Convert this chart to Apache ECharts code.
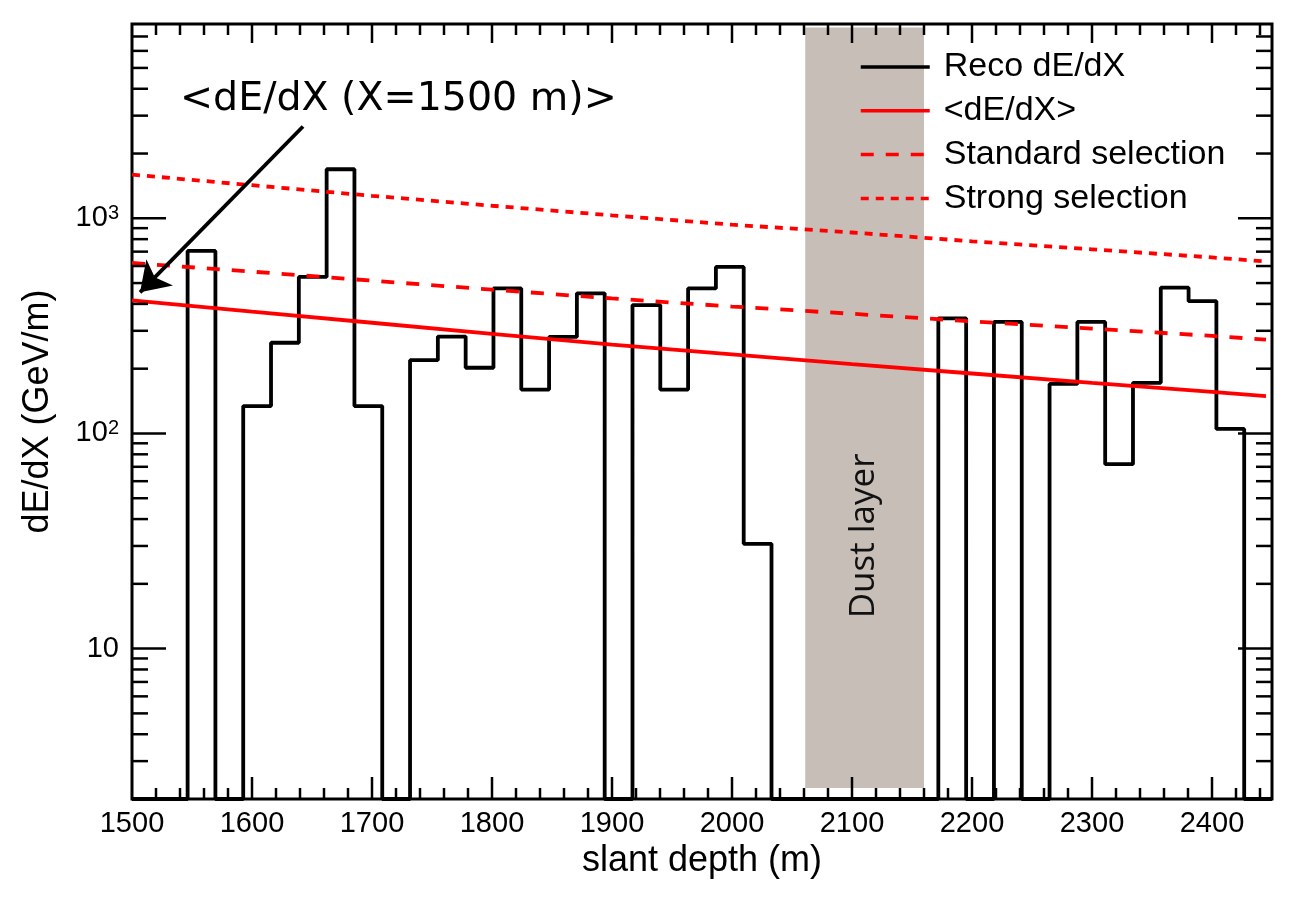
<!DOCTYPE html>
<html>
<head>
<meta charset="utf-8">
<title>dE/dX vs slant depth</title>
<script src="https://cdn.jsdelivr.net/npm/echarts@6/dist/echarts.min.js"></script>
<style>
    html, body { margin: 0; padding: 0; background: #fff; }
    #chart { width: 1305px; height: 915px; }
</style>
</head>
<body>
<div id="chart"></div>
<script>
(function () {

    // histogram binning (slant depth, m)
    var HIST_MIN = 1500;
    var HIST_MAX = 2450;
    var N_BINS = 41;

    // reconstructed dE/dX per bin (GeV/m), 0 = empty bin
    var recoValues = [
        0, 0, 705, 0, 134, 264, 534, 1690, 134, 0,
        219, 282, 202, 472, 160, 281, 448, 0, 395, 160,
        472, 594, 30.7, 0, 0, 0, 0, 0, 0, 343,
        0, 330, 0, 170, 330, 72, 172, 476, 412, 105,
        0
    ];

    // expected curves, read at these depths
    var lineDepths = [1500, 1600, 1700, 1800, 1900, 2000, 2100, 2200, 2300, 2400, 2445];
    var meanValues = [415, 368, 327, 290, 259, 233, 210, 190, 172, 156, 149];
    var standardValues = [620, 565, 513, 466, 424, 389, 360, 332, 307, 284, 273];
    var strongValues = [1596, 1425, 1272, 1144, 1032, 934, 859, 782, 717, 658, 630];

    var seriesNames = ['Reco dE/dX', '<dE/dX>', 'Standard selection', 'Strong selection'];

    // dust layer band (depth range, value range)
    var dustDepth = [2061, 2160];
    var dustValue = [2.25, 7700];

    // axes
    var X_MIN = 1500, X_MAX = 2450;
    var Y_MIN = 2, Y_MAX = 8000;
    var yMajorTicks = [10, 100, 1000];
    var yMinorTicks = [2, 3, 4, 5, 6, 7, 8, 9,
        20, 30, 40, 50, 60, 70, 80, 90,
        200, 300, 400, 500, 600, 700, 800, 900,
        2000, 3000, 4000, 5000, 6000, 7000];

    var FONT = '"Liberation Sans", Arial, Helvetica, sans-serif';

    var chart = echarts.init(document.getElementById('chart'));

    //
    var binWidth = (HIST_MAX - HIST_MIN) / N_BINS;
    var histData = [];
    recoValues.forEach(function (v, i) {
        var lo = HIST_MIN + i * binWidth;
        var hi = lo + binWidth;
        var y = v > 0 ? v : Y_MIN;
        histData.push([lo, y], [hi, y]);
    });

    function pairs(xs, ys) {
        return xs.map(function (x, i) { return [x, ys[i]]; });
    }

    //
    var xTickData = [];
    for (var t = X_MIN; t <= X_MAX; t += 20) {
        if (t > X_MIN && t < X_MAX) {
            xTickData.push([t, Y_MIN, t % 100 === 0 ? 1 : 0]);
        }
    }
    var yTickData = [];
    yMajorTicks.forEach(function (v) { yTickData.push([X_MIN, v, 1]); });
    yMinorTicks.forEach(function (v) { yTickData.push([X_MIN, v, 0]); });

    var tickStyle = { stroke: '#000', lineWidth: 2.5 };

    function renderXTick(params, api) {
        var cs = params.coordSys;
        var p = api.coord([api.value(0), Y_MIN]);
        var major = api.value(2) === 1;
        var lb = major ? 22 : 11;
        var lt = major ? 19 : 11;
        var bottom = cs.y + cs.height;
        return {
            type: 'group',
            children: [
                { type: 'line', shape: { x1: p[0], y1: bottom, x2: p[0], y2: bottom - lb }, style: tickStyle },
                { type: 'line', shape: { x1: p[0], y1: cs.y, x2: p[0], y2: cs.y + lt }, style: tickStyle }
            ]
        };
    }

    function renderYTick(params, api) {
        var cs = params.coordSys;
        var p = api.coord([X_MIN, api.value(1)]);
        var major = api.value(2) === 1;
        var len = major ? 34 : 16;
        var right = cs.x + cs.width;
        return {
            type: 'group',
            children: [
                { type: 'line', shape: { x1: cs.x, y1: p[1], x2: cs.x + len, y2: p[1] }, style: tickStyle },
                { type: 'line', shape: { x1: right, y1: p[1], x2: right - len, y2: p[1] }, style: tickStyle }
            ]
        };
    }

    function yLabel(v) {
        var e = Math.round(Math.log(v) / Math.LN10);
        if (Math.abs(v - Math.pow(10, e)) > 1e-6 * v) {
            return '';
        }
        if (e === 1) {
            return '10';
        }
        return '10{s|' + e + '}';
    }

    var option = {
        backgroundColor: '#fff',
        animation: false,
        textStyle: { fontFamily: FONT, color: '#000' },
        grid: {
            left: 132, right: 33, top: 24, bottom: 116,
            show: true, borderColor: '#000', borderWidth: 3, backgroundColor: 'transparent'
        },
        legend: {
            data: seriesNames,
            orient: 'vertical',
            left: 859,
            top: 50,
            padding: 0,
            itemWidth: 69,
            itemHeight: 14,
            itemGap: 9.8,
            itemStyle: { opacity: 0 },
            lineStyle: { width: 3.5 },
            textStyle: { fontFamily: FONT, fontSize: 34, color: '#000', padding: [0, 0, 0, 9] },
            selectedMode: false
        },
        xAxis: {
            type: 'value',
            min: X_MIN,
            max: X_MAX,
            interval: 100,
            name: 'slant depth (m)',
            nameLocation: 'middle',
            nameGap: 38,
            nameTextStyle: { fontFamily: FONT, fontSize: 36, color: '#000' },
            axisLine: { show: false },
            axisTick: { show: false },
            splitLine: { show: false },
            axisLabel: {
                fontFamily: FONT, fontSize: 29, color: '#000', margin: 10,
                showMaxLabel: false,
                formatter: function (v) { return String(v); }
            }
        },
        yAxis: {
            type: 'log',
            logBase: 10,
            min: Y_MIN,
            max: Y_MAX,
            name: 'dE/dX (GeV/m)',
            nameLocation: 'middle',
            nameGap: 76,
            nameRotate: 90,
            nameTextStyle: { fontFamily: FONT, fontSize: 36, color: '#000' },
            axisLine: { show: false },
            axisTick: { show: false },
            splitLine: { show: false },
            axisLabel: {
                fontFamily: FONT, fontSize: 29, color: '#000', margin: 13,
                showMinLabel: false, showMaxLabel: false,
                formatter: yLabel,
                rich: {
                    s: { fontFamily: FONT, fontSize: 20, color: '#000', verticalAlign: 'top', lineHeight: 16 }
                }
            }
        },
        series: [
            {
                name: seriesNames[0],
                type: 'line',
                data: histData,
                symbol: 'none',
                z: 3,
                lineStyle: { color: '#000', width: 3.8 },
                itemStyle: { color: '#000' },
                markArea: {
                    silent: true,
                    itemStyle: { color: '#c7beb8' },
                    data: [[
                        { xAxis: dustDepth[0], yAxis: dustValue[0] },
                        { xAxis: dustDepth[1], yAxis: dustValue[1] }
                    ]]
                },
                markLine: {
                    silent: true,
                    symbol: ['none', 'arrow'],
                    symbolSize: 28,
                    label: { show: false },
                    lineStyle: { color: '#000', width: 3.8, type: 'solid' },
                    data: [[
                        { coord: [1642.5, 2670] },
                        { coord: [1506.7, 453] }
                    ]]
                }
            },
            {
                name: seriesNames[1],
                type: 'line',
                data: pairs(lineDepths, meanValues),
                symbol: 'none',
                z: 4,
                lineStyle: { color: '#ff0000', width: 3.8 },
                itemStyle: { color: '#ff0000' }
            },
            {
                name: seriesNames[2],
                type: 'line',
                data: pairs(lineDepths, standardValues),
                symbol: 'none',
                z: 4,
                lineStyle: { color: '#ff0000', width: 3.8, type: [13, 12] },
                itemStyle: { color: '#ff0000' }
            },
            {
                name: seriesNames[3],
                type: 'line',
                data: pairs(lineDepths, strongValues),
                symbol: 'none',
                z: 4,
                lineStyle: { color: '#ff0000', width: 3.8, type: [8, 7] },
                itemStyle: { color: '#ff0000' }
            },
            {
                name: 'xticks',
                type: 'custom',
                data: xTickData,
                renderItem: renderXTick,
                silent: true,
                clip: false,
                z: 6
            },
            {
                name: 'yticks',
                type: 'custom',
                data: yTickData,
                renderItem: renderYTick,
                silent: true,
                clip: false,
                z: 6
            }
        ]
    };

    chart.setOption(option);

    // annotation texts anchored in data space
    var notePos = chart.convertToPixel({ gridIndex: 0 }, [1540, 3550]);
    var dustPos = chart.convertToPixel({ gridIndex: 0 }, [2110, 33.4]);

    chart.setOption({
        graphic: [
            {
                type: 'text',
                x: notePos[0],
                y: notePos[1],
                z: 10,
                style: {
                    text: '<dE/dX (X=1500 m)>',
                    fontFamily: '"DejaVu Sans", Verdana, sans-serif',
                    fontSize: 39.5,
                    fill: '#000',
                    textAlign: 'left',
                    textVerticalAlign: 'middle'
                }
            },
            {
                type: 'text',
                x: dustPos[0],
                y: dustPos[1],
                rotation: Math.PI / 2,
                z: 10,
                style: {
                    text: 'Dust layer',
                    fontFamily: '"Open Sans", sans-serif',
                    fontSize: 35,
                    fill: '#111',
                    textAlign: 'center',
                    textVerticalAlign: 'middle'
                }
            }
        ]
    });

}());
</script>
</body>
</html>
